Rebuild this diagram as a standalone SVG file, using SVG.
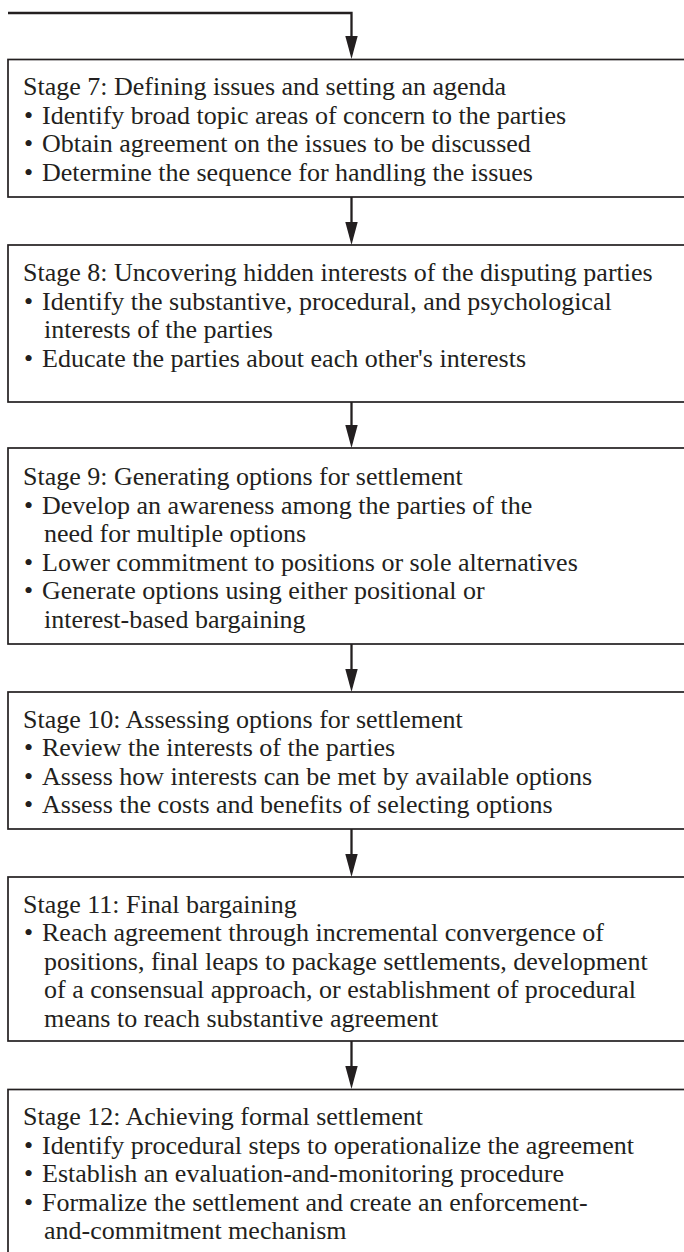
<svg xmlns="http://www.w3.org/2000/svg" width="684" height="1252" viewBox="0 0 684 1252">
<style>
.box{fill:#fff;stroke:#231f20;stroke-width:1.7}
.t{font-family:"Liberation Serif","Times New Roman",serif;font-size:26px;fill:#231f20}
.c{fill:none;stroke:#231f20;stroke-width:2.3}
</style>
<defs>
<marker id="ah" markerUnits="userSpaceOnUse" markerWidth="13" markerHeight="23" viewBox="0 0 13 23" refX="6.5" refY="22" orient="auto-start-reverse">
<path d="M0,0 L13,0 L6.5,23 Z" fill="#231f20" transform="rotate(0)"/>
</marker>
</defs>
<rect width="684" height="1252" fill="#fff"/>
<g id="connectors">
<path class="c" d="M8,13 H351.5 V36"/>
<path d="M345.3,36 L357.7,36 L351.5,59 Z" fill="#231f20"/>
<path class="c" d="M351.5,197 V222"/>
<path d="M345.3,222 L357.7,222 L351.5,245 Z" fill="#231f20"/>
<path class="c" d="M351.5,402 V425"/>
<path d="M345.3,425 L357.7,425 L351.5,448 Z" fill="#231f20"/>
<path class="c" d="M351.5,644 V669"/>
<path d="M345.3,669 L357.7,669 L351.5,692 Z" fill="#231f20"/>
<path class="c" d="M351.5,829 V854"/>
<path d="M345.3,854 L357.7,854 L351.5,877 Z" fill="#231f20"/>
<path class="c" d="M351.5,1041 V1066"/>
<path d="M345.3,1066 L357.7,1066 L351.5,1089 Z" fill="#231f20"/>
</g>
<g id="stage7">
<rect class="box" x="8" y="59.5" width="700" height="137.5"/>
<text class="t" x="23" y="95">Stage 7: Defining issues and setting an agenda</text>
<text class="t" y="123.6"><tspan x="24">•</tspan><tspan x="42">Identify broad topic areas of concern to the parties</tspan></text>
<text class="t" y="152.2"><tspan x="24">•</tspan><tspan x="42">Obtain agreement on the issues to be discussed</tspan></text>
<text class="t" y="180.8"><tspan x="24">•</tspan><tspan x="42">Determine the sequence for handling the issues</tspan></text>
</g>
<g id="stage8">
<rect class="box" x="8" y="245" width="700" height="157"/>
<text class="t" x="23" y="281">Stage 8: Uncovering hidden interests of the disputing parties</text>
<text class="t" y="309.6"><tspan x="24">•</tspan><tspan x="42">Identify the substantive, procedural, and psychological</tspan></text>
<text class="t" x="44" y="338.2">interests of the parties</text>
<text class="t" y="366.8"><tspan x="24">•</tspan><tspan x="42">Educate the parties about each other's interests</tspan></text>
</g>
<g id="stage9">
<rect class="box" x="8" y="448" width="700" height="196"/>
<text class="t" x="23" y="485">Stage 9: Generating options for settlement</text>
<text class="t" y="513.6"><tspan x="24">•</tspan><tspan x="42">Develop an awareness among the parties of the</tspan></text>
<text class="t" x="44" y="542.2">need for multiple options</text>
<text class="t" y="570.8"><tspan x="24">•</tspan><tspan x="42">Lower commitment to positions or sole alternatives</tspan></text>
<text class="t" y="599.4"><tspan x="24">•</tspan><tspan x="42">Generate options using either positional or</tspan></text>
<text class="t" x="44" y="628">interest-based bargaining</text>
</g>
<g id="stage10">
<rect class="box" x="8" y="692" width="700" height="137"/>
<text class="t" x="23" y="727.5">Stage 10: Assessing options for settlement</text>
<text class="t" y="756.1"><tspan x="24">•</tspan><tspan x="42">Review the interests of the parties</tspan></text>
<text class="t" y="784.7"><tspan x="24">•</tspan><tspan x="42">Assess how interests can be met by available options</tspan></text>
<text class="t" y="813.3"><tspan x="24">•</tspan><tspan x="42">Assess the costs and benefits of selecting options</tspan></text>
</g>
<g id="stage11">
<rect class="box" x="8" y="877" width="700" height="164"/>
<text class="t" x="23" y="912.6">Stage 11: Final bargaining</text>
<text class="t" y="941.2"><tspan x="24">•</tspan><tspan x="42">Reach agreement through incremental convergence of</tspan></text>
<text class="t" x="44" y="969.8">positions, final leaps to package settlements, development</text>
<text class="t" x="44" y="998.4">of a consensual approach, or establishment of procedural</text>
<text class="t" x="44" y="1027">means to reach substantive agreement</text>
</g>
<g id="stage12">
<rect class="box" x="8" y="1089.5" width="700" height="200"/>
<text class="t" x="23" y="1125">Stage 12: Achieving formal settlement</text>
<text class="t" y="1153.6"><tspan x="24">•</tspan><tspan x="42">Identify procedural steps to operationalize the agreement</tspan></text>
<text class="t" y="1182.2"><tspan x="24">•</tspan><tspan x="42">Establish an evaluation-and-monitoring procedure</tspan></text>
<text class="t" y="1210.8"><tspan x="24">•</tspan><tspan x="42">Formalize the settlement and create an enforcement-</tspan></text>
<text class="t" x="44" y="1239.4">and-commitment mechanism</text>
</g>
</svg>
